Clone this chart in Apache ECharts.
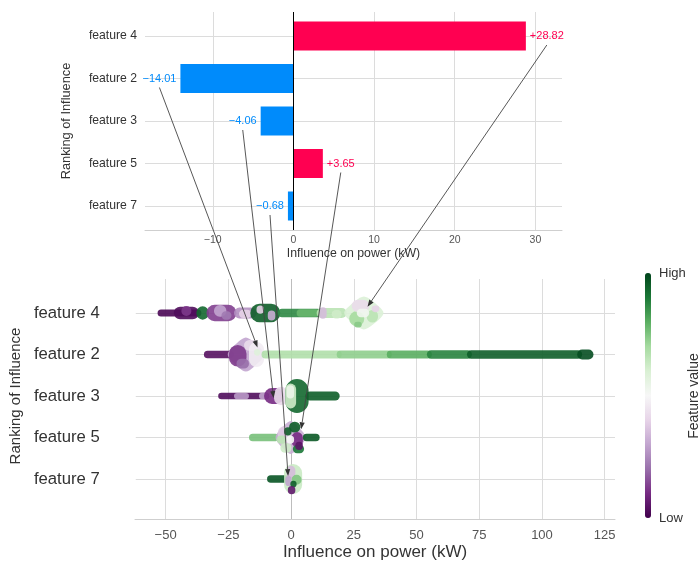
<!DOCTYPE html>
<html>
<head>
<meta charset="utf-8">
<script src="https://cdn.jsdelivr.net/npm/echarts@6/dist/echarts.min.js"></script>
<style>html,body{margin:0;padding:0;background:#fff}#c{width:698px;height:565px}</style>
</head>
<body>
<div id="c"></div>
<script>
// ---------- data ----------
const features = ['feature 4', 'feature 2', 'feature 3', 'feature 5', 'feature 7'];
const shapValues = [28.82, -14.01, -4.06, 3.65, -0.68];
const xTicksTop = [-10, 0, 10, 20, 30];
const xTicksBottom = [-50, -25, 0, 25, 50, 75, 100, 125];
// arrow targets in the beeswarm: [influence kW, row offset]
const arrowTargets = [[30.3, -0.15], [-13.6, -0.17], [-7.2, 0.05], [3.8, -0.2], [-1.4, -0.07]];
// beeswarm clusters: [x start kW, x end kW, row offset, half spread (rows), feature value 0..1]
const swarmF4 = [
  [-53.5, -36, 0, 0.085, 0.02], [-47, -37, 0, 0.15, 0.03], [-44, -40, -0.05, 0.12, 0.12],
  [-38, -33, 0, 0.16, 0.93], [-34, -22, 0, 0.2, 0.13], [-31, -26, -0.05, 0.14, 0.3], [-28, -24, 0.06, 0.1, 0.22],
  [-23, -14, 0, 0.13, 0.26], [-21, -16, 0.02, 0.1, 0.4], [-16.5, -4.5, 0, 0.22, 0.95],
  [-9.5, -6.5, 0.06, 0.12, 0.32], [-14, -11, -0.08, 0.1, 0.4], [-5.5, 12, 0, 0.1, 0.87],
  [2, 11, 0, 0.09, 0.78], [10, 22, 0, 0.12, 0.66], [11, 14, 0, 0.14, 0.35], [16, 20, 0.03, 0.1, 0.62],
  [21, 36.7, 0, 0.4, 0.59], [23, 29, 0.14, 0.18, 0.7], [24, 31, -0.17, 0.15, 0.42],
  [30, 34.5, 0.08, 0.15, 0.66], [26, 31, 0.0, 0.1, 0.52], [25, 28, 0.28, 0.07, 0.74], [32, 35, -0.1, 0.08, 0.4]
];
const swarmF2 = [
  [-35, -23, 0, 0.09, 0.04], [-25.5, -11, 0, 0.41, 0.3], [-25, -18, 0.03, 0.26, 0.12],
  [-22, -17, 0.22, 0.12, 0.2], [-19, -13, -0.22, 0.13, 0.42], [-17, -11, 0, 0.3, 0.47],
  [-15, -12.5, -0.05, 0.08, 0.58],
  [-12, 20, 0, 0.095, 0.68], [18, 40, 0, 0.095, 0.73], [38, 56, 0, 0.095, 0.8],
  [54, 72, 0, 0.1, 0.88], [70, 116, 0, 0.1, 0.95], [114, 120.5, 0, 0.12, 0.98]
];
const swarmF3 = [
  [-29.3, -9, 0, 0.08, 0.03], [-23, -17, 0, 0.075, 0.28], [-13, -9, 0, 0.08, 0.3],
  [-11, -3, 0, 0.19, 0.1], [-7, -1.5, 0, 0.22, 0.42],
  [-2.5, 6.8, 0, 0.41, 0.93], [-2.5, 1.8, 0, 0.3, 0.62], [-2, 1, -0.1, 0.16, 0.54],
  [5.5, 19.2, 0, 0.11, 0.95]
];
const swarmF5 = [
  [-17, -5, 0, 0.09, 0.76], [-6.4, 5.6, 0, 0.4, 0.32], [-5.5, -0.5, -0.05, 0.22, 0.38],
  [-1, 3.5, -0.25, 0.13, 0.95], [0, 4.5, 0.05, 0.18, 0.1], [0.5, 5, 0.28, 0.1, 0.9],
  [-4.5, 0, 0.25, 0.12, 0.62], [-2, 1, 0.05, 0.1, 0.5], [1.5, 4.5, 0.2, 0.1, 0.05],
  [-3, 0, -0.15, 0.1, 0.95], [-6, -2, 0.05, 0.1, 0.66], [4.5, 11.2, 0, 0.09, 0.96]
];
const swarmF7 = [
  [-9.8, -1, 0, 0.09, 0.97], [-3, 4.2, 0, 0.36, 0.63], [-2, 1.5, -0.17, 0.15, 0.35],
  [0, 4, 0.02, 0.12, 0.75], [-2.5, 0, 0.05, 0.12, 0.3], [-0.5, 2, 0.12, 0.08, 0.95],
  [-1.5, 1.5, 0.27, 0.1, 0.06]
];
const swarms = [swarmF4, swarmF2, swarmF3, swarmF5, swarmF7];

// ---------- chart ----------
const FONT = 'Liberation Sans, Arial, Helvetica, sans-serif';
const RED = '#ff0051', BLUE = '#008bfb', GRID = '#dcdcdc';
const PRGn = ['#40004b', '#762a83', '#9970ab', '#c2a5cf', '#e7d4e8', '#f7f7f7', '#d9f0d3', '#a6dba0', '#5aae61', '#1b7837', '#00441b'];
const minus = v => (v < 0 ? '\u2212' + Math.abs(v) : '' + v);
const barLabel = v => (v >= 0 ? '+' : '\u2212') + Math.abs(v).toFixed(2);

const swarmData = [];
swarms.forEach((arr, row) => arr.forEach(s => swarmData.push([row, s[0], s[1], s[2], s[3], s[4]])));

const topMin = -18.4, topMax = 33.3, botMin = -62.2, botMax = 129.1;
const ml = (z, color, data) => ({
  silent: true, symbol: ['none', 'none'], label: { show: false }, z: z, animation: false,
  lineStyle: { color: color, width: 1, type: 'solid' }, emphasis: { disabled: true }, data: data
});

const chart = echarts.init(document.getElementById('c'), null, { renderer: 'canvas' });
const option = {
  animation: false,
  textStyle: { fontFamily: FONT },
  grid: [
    { left: 145, right: 136, top: 12, height: 218 },
    { left: 145, right: 136, top: 14.75, height: 212.5 },
    { left: 135, right: 83, top: 279, height: 240 },
    { left: 135, right: 83, top: 313, height: 166 }
  ],
  xAxis: [
    { gridIndex: 0, type: 'value', min: topMin, max: topMax,
      axisLine: { show: true, lineStyle: { color: '#cfcfcf' } }, axisTick: { show: false }, splitLine: { show: false },
      axisLabel: { fontSize: 10.5, color: '#555', margin: 5, showMinLabel: false, showMaxLabel: false, formatter: minus },
      name: 'Influence on power (kW)', nameLocation: 'middle', nameGap: 18, nameTextStyle: { fontSize: 12.3, color: '#333' } },
    { gridIndex: 1, type: 'value', min: topMin, max: topMax, show: false },
    { gridIndex: 2, type: 'value', min: botMin, max: botMax,
      axisLine: { show: true, lineStyle: { color: '#cfcfcf' } }, axisTick: { show: false }, splitLine: { show: false },
      axisLabel: { customValues: xTicksBottom, fontSize: 13, color: '#555', margin: 10, formatter: minus },
      name: 'Influence on power (kW)', nameLocation: 'middle', nameGap: 25, nameTextStyle: { fontSize: 17, color: '#333' } },
    { gridIndex: 3, type: 'value', min: botMin, max: botMax, show: false }
  ],
  yAxis: [
    { gridIndex: 0, type: 'value', min: 0, max: 1, show: false },
    { gridIndex: 1, type: 'category', data: features, inverse: true,
      axisLine: { show: false }, axisTick: { show: false }, splitLine: { show: false },
      axisLabel: { margin: 8, fontSize: 12.2, color: '#333' },
      name: 'Ranking of Influence', nameLocation: 'middle', nameGap: 72, nameRotate: 90,
      nameTextStyle: { fontSize: 12.8, color: '#333' } },
    { gridIndex: 2, type: 'value', min: 0, max: 1, show: false },
    { gridIndex: 3, type: 'value', min: 0, max: 4, interval: 1, inverse: true,
      axisLine: { show: false }, axisTick: { show: false },
      splitLine: { show: true, lineStyle: { color: GRID, width: 1 } },
      axisLabel: { margin: 36, fontSize: 16.7, color: '#333', formatter: v => features[v] || '' },
      name: 'Ranking of Influence', nameLocation: 'middle', nameGap: 106, nameRotate: 90,
      nameTextStyle: { fontSize: 15, color: '#333' } }
  ],
  visualMap: {
    type: 'continuous', seriesIndex: 6, dimension: 5, min: 0, max: 1,
    inRange: { color: PRGn }, orient: 'vertical', left: 645, top: 273,
    itemWidth: 6, itemHeight: 245, padding: 0, calculable: false, text: null, show: true, hoverLink: false
  },
  series: [
    { type: 'line', xAxisIndex: 0, yAxisIndex: 0, data: [], silent: true,
      markLine: ml(1, GRID, xTicksTop.filter(v => v !== 0).map(v => ({ xAxis: v }))) },
    { type: 'line', xAxisIndex: 0, yAxisIndex: 0, data: [], silent: true,
      markLine: ml(4, '#000', [{ xAxis: 0 }]) },
    { type: 'line', xAxisIndex: 1, yAxisIndex: 1, data: [], silent: true,
      markLine: ml(1, GRID, features.map((f, i) => ({ yAxis: i }))) },
    { type: 'bar', xAxisIndex: 1, yAxisIndex: 1, barWidth: 29, z: 2, silent: true,
      data: shapValues.map(v => ({
        value: v,
        itemStyle: { color: v >= 0 ? RED : BLUE },
        label: { show: true, position: v >= 0 ? 'right' : 'left', distance: 4, color: v >= 0 ? RED : BLUE,
                 fontSize: 11, formatter: p => barLabel(p.value) }
      })) },
    { type: 'line', xAxisIndex: 2, yAxisIndex: 2, data: [], silent: true,
      markLine: ml(1, GRID, xTicksBottom.filter(v => v !== 0).map(v => ({ xAxis: v }))) },
    { type: 'line', xAxisIndex: 2, yAxisIndex: 2, data: [], silent: true,
      markLine: ml(1, '#bdbdbd', [{ xAxis: 0 }]) },
    { type: 'custom', xAxisIndex: 3, yAxisIndex: 3, z: 3, silent: true,
      encode: { x: [1, 2], y: 0 },
      data: swarmData,
      renderItem: (params, api) => {
        const row = api.value(0), x0 = api.value(1), x1 = api.value(2), off = api.value(3), sp = api.value(4);
        const a = api.coord([x0, row + off - sp]);
        const b = api.coord([x1, row + off + sp]);
        const x = Math.min(a[0], b[0]), y = Math.min(a[1], b[1]);
        const w = Math.abs(b[0] - a[0]), h = Math.abs(b[1] - a[1]);
        const fill = api.visual('color');
        if (sp >= 0.3 && w > h * 0.9) {
          const cx = x + w / 2, cy = y + h / 2;
          return { type: 'polygon',
                   shape: { points: [[x, cy], [x + w * 0.3, y + h * 0.12], [cx, y], [x + w * 0.7, y + h * 0.12],
                                     [x + w, cy], [x + w * 0.7, y + h * 0.88], [cx, y + h], [x + w * 0.3, y + h * 0.88]],
                            smooth: 0.3 },
                   style: { fill: fill, opacity: 0.9 } };
        }
        return { type: 'rect', shape: { x: x, y: y, width: w, height: h, r: Math.min(w, h) / 2 },
                 style: { fill: fill, opacity: 0.9 } };
      } }
  ]
};
chart.setOption(option);

// ---------- annotations: arrows from top labels to beeswarm, colorbar texts ----------
const ctx = document.createElement('canvas').getContext('2d');
ctx.font = '11px ' + FONT;
const graphics = [];
shapValues.forEach((v, i) => {
  const p = chart.convertToPixel({ xAxisIndex: 1, yAxisIndex: 1 }, [v, i]);
  const w = ctx.measureText(barLabel(v)).width;
  const sx = p[0] + (v >= 0 ? 1 : -1) * (4 + w / 2), sy = p[1] + 9;
  const e = chart.convertToPixel({ xAxisIndex: 3, yAxisIndex: 3 }, [arrowTargets[i][0], i + arrowTargets[i][1]]);
  const dx = e[0] - sx, dy = e[1] - sy, L = Math.hypot(dx, dy), ux = dx / L, uy = dy / L;
  const bx = e[0] - ux * 7, by = e[1] - uy * 7, nx = -uy, ny = ux;
  graphics.push({ type: 'line', silent: true, z: 50, shape: { x1: sx, y1: sy, x2: bx, y2: by },
                  style: { stroke: '#444', lineWidth: 0.9 } });
  graphics.push({ type: 'polygon', silent: true, z: 50,
                  shape: { points: [[e[0], e[1]], [bx + nx * 2.6, by + ny * 2.6], [bx - nx * 2.6, by - ny * 2.6]] },
                  style: { fill: '#333' } });
});
graphics.push({ type: 'text', silent: true, x: 659, y: 273, style: { text: 'High', font: '13px ' + FONT, fill: '#333', verticalAlign: 'middle' } });
graphics.push({ type: 'text', silent: true, x: 659, y: 518, style: { text: 'Low', font: '13px ' + FONT, fill: '#333', verticalAlign: 'middle' } });
graphics.push({ type: 'text', silent: true, x: 694, y: 396, rotation: Math.PI / 2,
                style: { text: 'Feature value', font: '14px ' + FONT, fill: '#333', align: 'center', verticalAlign: 'middle' } });
chart.setOption({ graphic: graphics });
</script>
</body>
</html>
